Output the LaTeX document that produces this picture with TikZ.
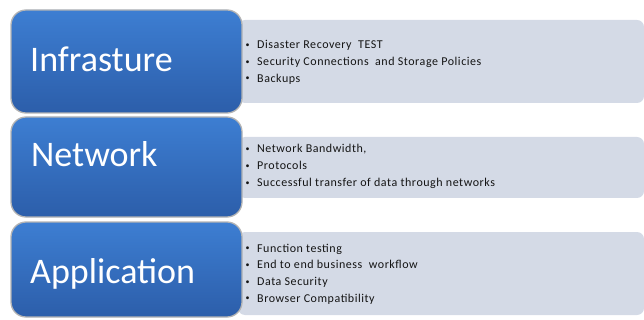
\documentclass[tikz,border=0pt]{standalone}
\usepackage{fontspec}
\setmainfont{Carlito}
\newfontfamily\listfont[LetterSpace=4.5]{Carlito}
\definecolor{layertop}{HTML}{3D7ED2}
\definecolor{layerbottom}{HTML}{2C5EAA}
\definecolor{detailgrey}{HTML}{D4DAE6}
\definecolor{shadowgrey}{HTML}{B4B4B4}
\definecolor{textdark}{HTML}{141414}
\begin{document}
\begin{tikzpicture}[x=1pt,y=-1pt]
\tikzset{
  detail/.style={fill=detailgrey, rounded corners=7pt, inner sep=0, minimum width=406pt},
  layer/.style={rounded corners=15pt, top color=layertop, bottom color=layerbottom,
                draw=shadowgrey, line width=1.3pt, inner sep=0, minimum width=231pt},
  title/.style={anchor=base west, text=white, font=\fontsize{36}{40}\selectfont, inner sep=0},
  bullets/.style={anchor=west, align=left, font=\listfont\fontsize{12}{16.7}\selectfont,
                  text=textdark, inner sep=0}
}
\useasboundingbox (0,0) rectangle (644,320);

% grey detail panels, partly hidden behind the blue layers
\node[detail, minimum height=83pt] (d1) at (441,61.5) {};
\node[detail, minimum height=61pt] (d2) at (441,167.5) {};
\node[detail, minimum height=83pt] (d3) at (441,273.5) {};

% blue layer boxes
\node[layer, minimum height=103pt] (l1) at (126.5,61.5) {};
\node[layer, minimum height=100pt] (l2) at (126.5,167) {};
\node[layer, minimum height=95pt] (l3) at (126.5,269.5) {};

% layer titles
\node[title] (t1) at (30,71.6) {Infrasture};
\node[title] (t2) at (31,167) {Network};
\node[title] (t3) at (30,283.6) {Application};

% bullet lists
\newcommand{\itm}{\raisebox{1.3pt}{\fontsize{8}{8}\selectfont\textbullet}\hspace{7.5pt}}
\node[bullets] (b1) at (245.5,62.3) {\itm Disaster Recovery\ \ TEST\\
  \itm Security Connections\ \ and Storage Policies\\
  \itm Backups};
\node[bullets] (b2) at (245.5,166.5) {\itm Network Bandwidth,\\
  \itm Protocols\\
  \itm Successful transfer of data through\ networks};
\node[bullets] (b3) at (245.5,274) {\itm Function testing\\
  \itm End to end business\ \ workflow\\
  \itm Data Security\\
  \itm Browser Compatibility};
\end{tikzpicture}
\end{document}
